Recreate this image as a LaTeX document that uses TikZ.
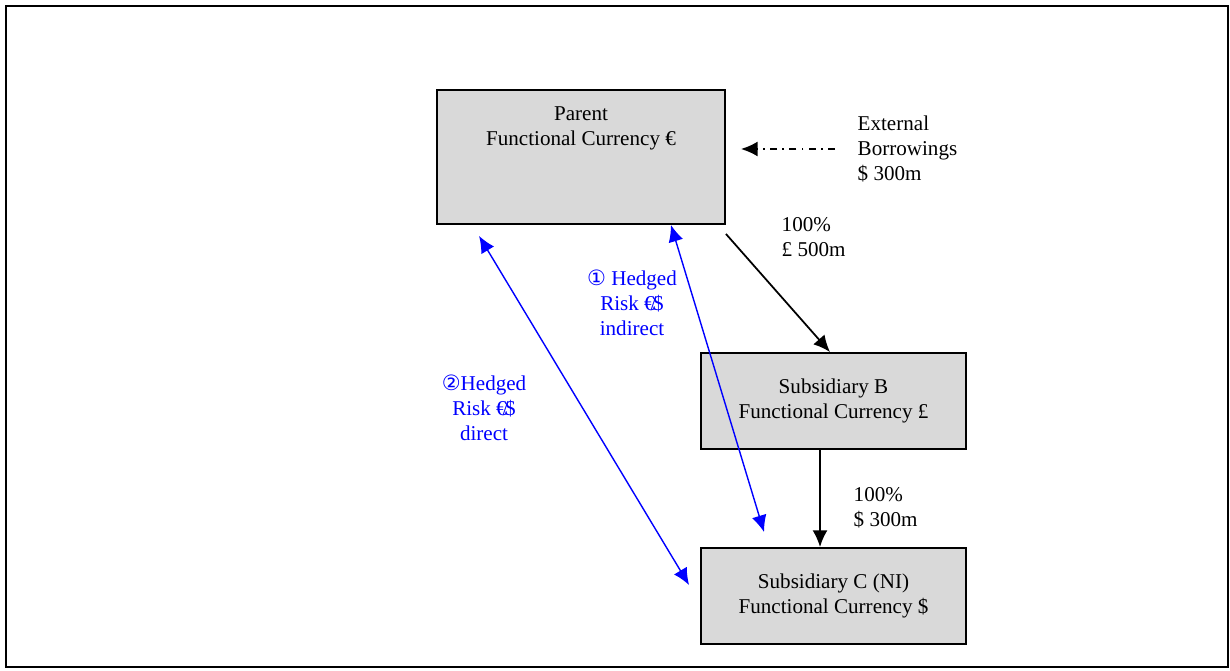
\documentclass[tikz,border=0pt]{standalone}
\usepackage{fontspec}
\setmainfont{Liberation Serif}
\newfontfamily\circfont{DejaVu Sans}
\usetikzlibrary{arrows.meta}

\begin{document}
\begin{tikzpicture}[x=0.02cm, y=-0.02cm,
	entity/.style={shape=rectangle, draw, fill=gray!30, line width=1.1pt, inner sep=0},
	txt/.style={font=\fontsize{12}{14.2}\selectfont, align=center, inner sep=0},
	hedge/.style={txt, text=blue},
	owns/.style={->, line width=1pt},
	hedgearrow/.style={<->, thick, blue},
	>={Latex[length=9.5pt,width=8.5pt]}, thick]
				\useasboundingbox (0,0) rectangle (1230,671);
				\draw[line width=1.1pt] (6,6) rectangle (1228,667);
				% the three entities
				\node[entity, minimum width=5.76cm, minimum height=2.68cm] (parent) at (581,157) {};
				\node[txt] (parenttxt) at (581,128) {Parent\\Functional Currency €};
				\node[entity, minimum width=5.3cm, minimum height=1.92cm] (subb) at (833.5,401) {};
				\node[txt] (subbtxt) at (833.5,401) {Subsidiary B\\Functional Currency £};
				\node[entity, minimum width=5.3cm, minimum height=1.92cm] (subc) at (833.5,596) {};
				\node[txt] (subctxt) at (833.5,596) {Subsidiary C (NI)\\Functional Currency \$};
				% labels
				\node[txt, align=left, anchor=west] (ext) at (857,149) {External\\Borrowings\\\$ 300m};
				\node[txt, align=left, anchor=west] (share1) at (781,237) {100\%\\£ 500m};
				\node[txt, align=left, anchor=west] (share2) at (853,508) {100\%\\\$ 300m};
				\node[hedge] (indirect) at (632,303) {{\circfont ①} Hedged\\Risk €\kern-0.2em/\kern-0.15em\$\\indirect};
				\node[hedge] (direct) at (484,408) {{\circfont ②}Hedged\\Risk €\kern-0.2em/\kern-0.15em\$\\direct};
				% connectors
				\draw[->, line width=1pt, dash pattern=on 4pt off 3pt on 1pt off 3pt] ([xshift=-0.44cm]ext.west) -- ([xshift=0.3cm]ext.west -| parent.east);
				\draw[owns] ([yshift=-0.18cm]parent.south east) -- ([xshift=-0.07cm]subb.north);
				\draw[owns] ([xshift=-0.27cm]subb.south) -- ([xshift=-0.27cm]subc.north);
				\draw[hedgearrow] ([xshift=0.86cm,yshift=-0.22cm]parent.south west) -- ([xshift=-0.22cm,yshift=0.22cm]subc.west);
				\draw[hedgearrow] ([xshift=-1.1cm]parent.south east) -- ([xshift=1.28cm,yshift=0.3cm]subc.north west);
			\end{tikzpicture}
\end{document}
